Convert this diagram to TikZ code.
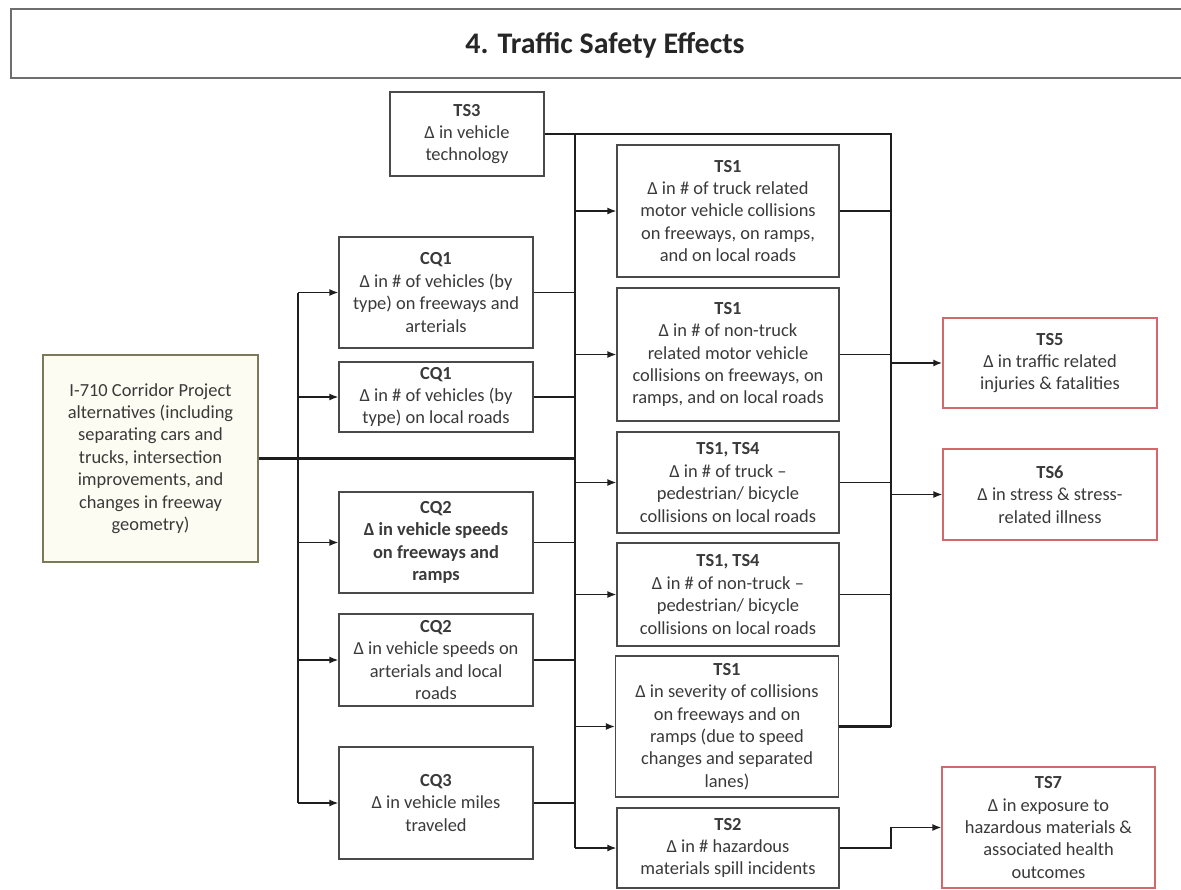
\documentclass[tikz,border=0pt]{standalone}
\usepackage{fontspec}
\setmainfont{Carlito}
\usetikzlibrary{arrows.meta,calc}
\definecolor{boxline}{HTML}{4A4A4A}
\definecolor{oliveline}{HTML}{7A7A58}
\definecolor{creamfill}{HTML}{FCFCF2}
\definecolor{redline}{HTML}{D2686C}
\definecolor{txt}{HTML}{3A3A3A}
\definecolor{wire}{HTML}{1E1E1E}
\begin{document}
\begin{tikzpicture}[x=1bp,y=-1bp,
  box/.style={draw=boxline, line width=1.3bp, fill=white, align=center, inner sep=2bp,
    text=txt, font=\fontsize{18.5}{22.5}\selectfont},
  srcbox/.style={box, draw=oliveline, fill=creamfill},
  outbox/.style={box, draw=redline},
  titletext/.style={inner sep=0pt, text=black!85, font=\bfseries\fontsize{30}{36}\selectfont},
  frame/.style={draw=boxline!80, line width=1.5bp},
  conn/.style={draw=wire, line width=1.4bp},
  heavy/.style={conn, line width=2.1bp},
  arr/.style={conn, -{Latex[length=9bp,width=7bp]}},
  heavyarr/.style={heavy, -{Latex[length=9bp,width=7bp]}}
]
\useasboundingbox[fill=white] (0,0) rectangle (1181,890);

% title frame (open to the right, running off the page) and title
\draw[frame] (1181,9) -- (11,9) -- (11,78) -- (1181,78);
\node[titletext] (title) at (605,45) {4. Traffic Safety Effects};

% source box
\node[srcbox, minimum width=215bp, minimum height=207bp] (src) at (150.5,458.5)
  {I-710 Corridor Project\\alternatives (including\\separating cars and\\trucks, intersection\\improvements, and\\changes in freeway\\geometry)};

% top technology box
\node[box, minimum width=154bp, minimum height=84bp] (ts3) at (467,134)
  {\textbf{TS3}\\Δ in vehicle\\technology};

% CQ column
\node[box, minimum width=194bp, minimum height=111bp] (cq1a) at (436,292.5)
  {\textbf{CQ1}\\Δ in \# of vehicles (by\\type) on freeways and\\arterials};
\node[box, minimum width=194bp, minimum height=70bp] (cq1b) at (436,397)
  {\textbf{CQ1}\\Δ in \# of vehicles (by\\type) on local roads};
\node[box, minimum width=194bp, minimum height=101bp, font=\bfseries\fontsize{18.5}{22.5}\selectfont] (cq2a) at (436,542.5)
  {CQ2\\Δ in vehicle speeds\\on freeways and\\ramps};
\node[box, minimum width=194bp, minimum height=92bp] (cq2b) at (436,660)
  {\textbf{CQ2}\\Δ in vehicle speeds on\\arterials and local\\roads};
\node[box, minimum width=194bp, minimum height=112bp] (cq3) at (436,803)
  {\textbf{CQ3}\\Δ in vehicle miles\\traveled};

% TS column
\node[box, minimum width=222bp, minimum height=132bp] (ts1a) at (728,211)
  {\textbf{TS1}\\Δ in \# of truck related\\motor vehicle collisions\\on freeways, on ramps,\\and on local roads};
\node[box, minimum width=222bp, minimum height=133bp] (ts1b) at (728,354.5)
  {\textbf{TS1}\\Δ in \# of non-truck\\related motor vehicle\\collisions on freeways, on\\ramps, and on local roads};
\node[box, minimum width=222bp, minimum height=101bp] (ts14a) at (728,482.5)
  {\textbf{TS1, TS4}\\Δ in \# of truck –\\pedestrian/ bicycle\\collisions on local roads};
\node[box, minimum width=222bp, minimum height=103bp] (ts14b) at (728,594.5)
  {\textbf{TS1, TS4}\\Δ in \# of non-truck –\\pedestrian/ bicycle\\collisions on local roads};
\node[box, minimum width=223bp, minimum height=141bp] (tssev) at (727,726.5)
  {\textbf{TS1}\\Δ in severity of collisions\\on freeways and on\\ramps (due to speed\\changes and separated\\lanes)};
\node[box, minimum width=222bp, minimum height=80bp] (ts2) at (728,848)
  {\textbf{TS2}\\Δ in \# hazardous\\materials spill incidents};

% outcome boxes
\node[outbox, minimum width=214bp, minimum height=90bp] (ts5) at (1050,363)
  {\textbf{TS5}\\Δ in traffic related\\injuries \& fatalities};
\node[outbox, minimum width=214bp, minimum height=91bp] (ts6) at (1050,494.5)
  {\textbf{TS6}\\Δ in stress \& stress-\\related illness};
\node[outbox, minimum width=213bp, minimum height=121bp] (ts7) at (1048.5,827.5)
  {\textbf{TS7}\\Δ in exposure to\\hazardous materials \&\\associated health\\outcomes};

% bus positions
\coordinate (b1) at (298,458);
\coordinate (b2) at (575,133);
\coordinate (b3) at (891,133);

% source to first bus and on to second bus
\draw[heavy] (src.east) -- (src.east -| b2);
\draw[heavy] (b1 |- cq1a.west) -- (b1 |- cq3.west);
\foreach \n in {cq1a,cq1b,cq2a,cq2b,cq3} {
  \draw[arr] (b1 |- \n.west) -- (\n.west);
  \draw[conn] (\n.east) -- (\n.east -| b2);
}

% TS3 feeds both buses
\draw[conn] (ts3.east) -- (ts3.east -| b3) -- (b3 |- tssev.east);
\draw[heavy] (ts3.east -| b2) -- (b2 |- ts2.west);

% second bus to TS boxes
\foreach \n in {ts1a,ts1b,ts14a,ts14b,tssev,ts2} {
  \draw[arr] (b2 |- \n.west) -- (\n.west);
}
% TS boxes to third bus
\foreach \n in {ts1a,ts1b,ts14a,ts14b} {
  \draw[conn] (\n.east) -- (\n.east -| b3);
}
\draw[heavy] (tssev.east) -- (tssev.east -| b3);

% third bus to outcomes
\draw[heavyarr] (b3 |- ts5.west) -- (ts5.west);
\draw[arr] (b3 |- ts6.west) -- (ts6.west);
\draw[arr] (ts2.east) -| (b3 |- ts7.west) -- (ts7.west);
\end{tikzpicture}
\end{document}
